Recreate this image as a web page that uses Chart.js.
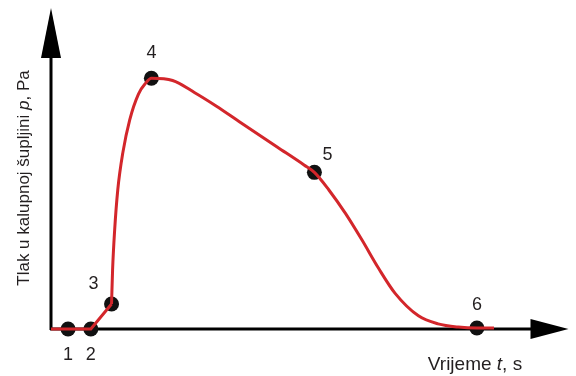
<!DOCTYPE html>
<html>
<head>
<meta charset="utf-8">
<script src="https://cdn.jsdelivr.net/npm/chart.js@4/dist/chart.umd.min.js"></script>
<style>
  html, body { margin: 0; padding: 0; background: #fff; }
  #wrap { width: 576px; height: 376px; position: relative; }
</style>
</head>
<body>
<div id="wrap"><canvas id="myChart" width="576" height="376"></canvas></div>
<script>
// pressure curve (time and pressure in relative units, 0-100)
// filling phase (straight pieces up to stage 3)
var fillTime = [0, 7.7, 11.7]
var fillPressure = [0, 0, 7.8]
// pressing / cooling phase (smooth, from stage 3 on)
var pressTime = [11.7, 11.9, 12.3, 12.9, 13.9, 15.2, 16.9, 18.3, 19.4, 23.5, 27.7, 31.9, 36.4, 43.7, 48.9, 50.9, 53.7, 56.9, 60.1, 63.3, 66.5, 71.0, 74.8, 78.7, 82.3, 85.6]
var pressPressure = [7.8, 18.4, 30.8, 43.3, 55.1, 65.1, 73.2, 76.6, 78.1, 77.4, 73.7, 69.5, 64.6, 56.7, 51.1, 48.8, 43.3, 36.0, 27.7, 18.9, 11.1, 4.1, 1.6, 0.6, 0.3, 0.3]

// marked stages 1..6
var stageLabels = ['1', '2', '3', '4', '5', '6']
var stageTime = [3.3, 7.7, 11.7, 19.4, 50.9, 82.3]
var stagePressure = [0, 0, 7.8, 78.1, 48.8, 0.3]

var xTitle = 'Vrijeme '
var yTitle = 'Tlak u kalupnoj šupljini '

const FAMILY = '"Liberation Sans", Arial, sans-serif'

// label offsets relative to each marker (dx, dy)
const labelOffsets = [[0, 26], [0, 26], [-18, -20], [0, -25], [13, -17], [0, -23]]

const axesPlugin = {
    id: 'arrowAxes',
    beforeDatasetsDraw(chart) {
        const ctx = chart.ctx
        const a = chart.chartArea
        ctx.save()
        ctx.fillStyle = '#000'
        ctx.strokeStyle = '#000'
        ctx.lineWidth = 3
        // y axis
        ctx.beginPath()
        ctx.moveTo(a.left, a.bottom + 1)
        ctx.lineTo(a.left, a.top + 40)
        ctx.stroke()
        ctx.beginPath()
        ctx.moveTo(a.left, a.top)
        ctx.lineTo(a.left - 10, a.top + 50)
        ctx.lineTo(a.left + 10, a.top + 50)
        ctx.closePath()
        ctx.fill()
        // x axis
        ctx.beginPath()
        ctx.moveTo(a.left - 1, a.bottom)
        ctx.lineTo(a.right - 30, a.bottom)
        ctx.stroke()
        ctx.beginPath()
        ctx.moveTo(a.right, a.bottom)
        ctx.lineTo(a.right - 38, a.bottom - 10)
        ctx.lineTo(a.right - 38, a.bottom + 10)
        ctx.closePath()
        ctx.fill()
        ctx.restore()
    },
    afterDatasetsDraw(chart) {
        const ctx = chart.ctx
        ctx.save()
        ctx.fillStyle = '#231f20'
        ctx.textBaseline = 'middle'
        ctx.textAlign = 'center'
        ctx.font = '18px ' + FAMILY
        // stage numbers
        const meta = chart.getDatasetMeta(2)
        meta.data.forEach((pt, i) => {
            const o = labelOffsets[i]
            ctx.fillText(stageLabels[i], pt.x + o[0], pt.y + o[1])
        })
        // x title: "Vrijeme t, s"
        drawMixed(ctx, [[xTitle, '19px ' + FAMILY], ['t', 'italic 19px ' + FAMILY], [', s', '19px ' + FAMILY]], 475, 365)
        // y title rotated
        ctx.translate(24, 178)
        ctx.rotate(-Math.PI / 2)
        drawMixed(ctx, [[yTitle, '17px ' + FAMILY], ['p', 'italic 17px ' + FAMILY], [', Pa', '17px ' + FAMILY]], 0, 0)
        ctx.restore()
    }
}

function drawMixed(ctx, parts, cx, cy) {
    let total = 0
    parts.forEach(p => { ctx.font = p[1]; total += ctx.measureText(p[0]).width })
    let x = cx - total / 2
    ctx.textAlign = 'left'
    parts.forEach(p => {
        ctx.font = p[1]
        ctx.fillText(p[0], x, cy)
        x += ctx.measureText(p[0]).width
    })
    ctx.textAlign = 'center'
}

const toPoints = (xs, ys) => xs.map((t, i) => ({ x: t, y: ys[i] }))

const config = {
    type: 'line',
    data: {
        datasets: [{
            data: toPoints(fillTime, fillPressure),
            borderColor: '#d3262b',
            borderWidth: 3,
            pointRadius: 0,
            tension: 0,
            clip: false
        }, {
            data: toPoints(pressTime, pressPressure),
            borderColor: '#d3262b',
            borderWidth: 3,
            pointRadius: 0,
            cubicInterpolationMode: 'monotone',
            clip: false
        }, {
            data: toPoints(stageTime, stagePressure),
            showLine: false,
            pointRadius: 7.5,
            pointBackgroundColor: '#111',
            pointBorderWidth: 0,
            clip: false
        }]
    },
    options: {
        responsive: false,
        animation: false,
        layout: { padding: { left: 51, right: 5, top: 8, bottom: 47 } },
        plugins: { legend: { display: false }, tooltip: { enabled: false } },
        scales: {
            x: { type: 'linear', min: 0, max: 100, display: false },
            y: { min: 0, max: 100, display: false }
        }
    },
    plugins: [axesPlugin]
}

new Chart(document.getElementById('myChart'), config)
</script>
</body>
</html>
